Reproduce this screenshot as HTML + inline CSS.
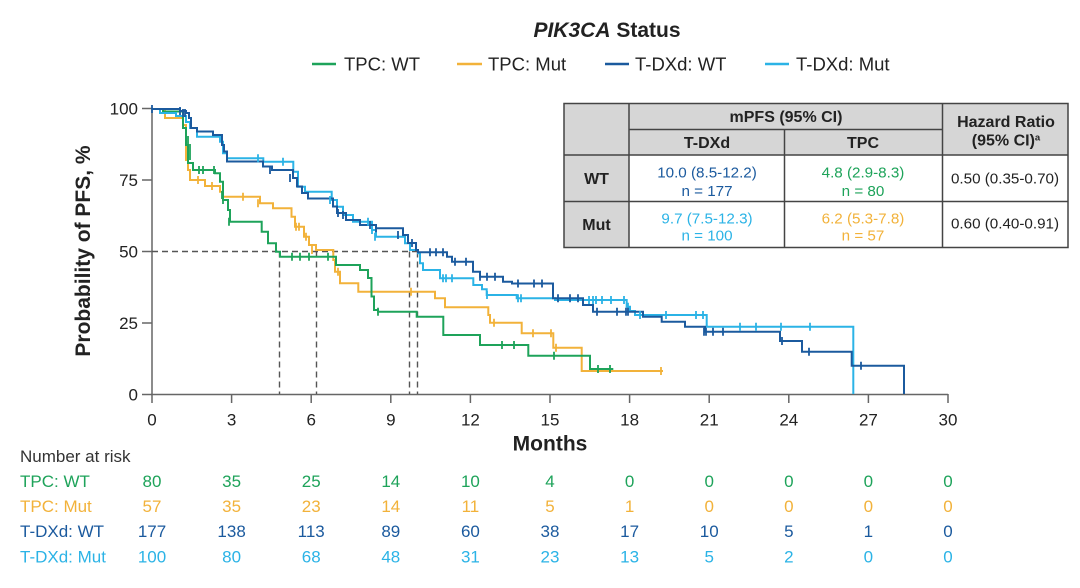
<!DOCTYPE html>
<html><head><meta charset="utf-8"><style>
html,body{margin:0;padding:0;background:#fff;}
svg{display:block;font-family:"Liberation Sans",Arial,sans-serif;}
</style></head><body>
<svg width="1080" height="588" viewBox="0 0 1080 588" xmlns="http://www.w3.org/2000/svg">
<!-- Title -->
<text x="607" y="37" text-anchor="middle" font-size="21" font-weight="bold" fill="#222"><tspan font-style="italic">PIK3CA</tspan> Status</text>
<!-- Legend -->
<g font-size="18.5" fill="#222">
<line x1="312" y1="64" x2="336" y2="64" stroke="#1ea35a" stroke-width="2.5"/>
<text x="344" y="70.5">TPC: WT</text>
<line x1="457" y1="64" x2="482" y2="64" stroke="#f2b23a" stroke-width="2.5"/>
<text x="488" y="70.5">TPC: Mut</text>
<line x1="605" y1="64" x2="629" y2="64" stroke="#1b5a9e" stroke-width="2.5"/>
<text x="635" y="70.5">T-DXd: WT</text>
<line x1="765" y1="64" x2="789" y2="64" stroke="#2bb3e6" stroke-width="2.5"/>
<text x="796" y="70.5">T-DXd: Mut</text>
</g>
<!-- Axes -->
<g stroke="#666" stroke-width="1.5" fill="none">
<line x1="152" y1="108" x2="152" y2="395"/>
<line x1="151" y1="394.5" x2="948" y2="394.5"/>
<line x1="142" y1="108.5" x2="152" y2="108.5"/>
<line x1="142" y1="180" x2="152" y2="180"/>
<line x1="142" y1="251.5" x2="152" y2="251.5"/>
<line x1="142" y1="323" x2="152" y2="323"/>
<line x1="142" y1="394.5" x2="152" y2="394.5"/>
<line x1="152" y1="394" x2="152" y2="403"/>
<line x1="231.6" y1="394" x2="231.6" y2="403"/>
<line x1="311.2" y1="394" x2="311.2" y2="403"/>
<line x1="390.8" y1="394" x2="390.8" y2="403"/>
<line x1="470.4" y1="394" x2="470.4" y2="403"/>
<line x1="550" y1="394" x2="550" y2="403"/>
<line x1="629.6" y1="394" x2="629.6" y2="403"/>
<line x1="709.2" y1="394" x2="709.2" y2="403"/>
<line x1="788.8" y1="394" x2="788.8" y2="403"/>
<line x1="868.4" y1="394" x2="868.4" y2="403"/>
<line x1="948" y1="394" x2="948" y2="403"/>
</g>
<g font-size="17" fill="#222" text-anchor="end">
<text x="138" y="114.5">100</text>
<text x="138" y="186">75</text>
<text x="138" y="257.5">50</text>
<text x="138" y="329">25</text>
<text x="138" y="400.5">0</text>
</g>
<g font-size="17" fill="#222" text-anchor="middle">
<text x="152" y="425.5">0</text>
<text x="231.6" y="425.5">3</text>
<text x="311.2" y="425.5">6</text>
<text x="390.8" y="425.5">9</text>
<text x="470.4" y="425.5">12</text>
<text x="550" y="425.5">15</text>
<text x="629.6" y="425.5">18</text>
<text x="709.2" y="425.5">21</text>
<text x="788.8" y="425.5">24</text>
<text x="868.4" y="425.5">27</text>
<text x="948" y="425.5">30</text>
</g>
<text x="550" y="450.5" text-anchor="middle" font-size="21" font-weight="bold" fill="#222">Months</text>
<text transform="translate(90,251) rotate(-90)" text-anchor="middle" font-size="21" font-weight="bold" fill="#222">Probability of PFS, %</text>
<!-- Median dashed lines -->
<g stroke="#555" stroke-width="1.4" stroke-dasharray="6,4" fill="none">
<line x1="152" y1="251.5" x2="418" y2="251.5"/>
<line x1="279.5" y1="251.5" x2="279.5" y2="394"/>
<line x1="316.5" y1="251.5" x2="316.5" y2="394"/>
<line x1="409.5" y1="251.5" x2="409.5" y2="394"/>
<line x1="417.5" y1="251.5" x2="417.5" y2="394"/>
</g>
<!-- Curves -->
<g fill="none" stroke-width="2" stroke-linejoin="miter">
<path stroke="#f2b23a" d="M152,109 H165 V118 H183 V125 H186 V160 H188 V170 H190 V180 H205 V186 H220 V191.7 H223 V196.7 H260 V203.3 H273 V208.3 H291.5 V216.7 H295 V226.7 H304 V236.7 H309 V245 H316 V250 H333.3 V260 H335 V271.7 H340 V283.3 H358.3 V291.7 H435 V298.3 H445 V307.3 H488.3 V315 H490 V322.7 H521.7 V333.3 H553.3 V347.7 H581.7 V371 H663"/>
<path stroke="#1ea35a" d="M152,109 H163 V111.5 H183 V128 H186 V145 H188 V163 H193 V170 H215 V173.3 H220 V181.7 H223 V200 H228 V210 H230 V221.7 H261.7 V231.7 H268 V243.3 H276 V251.7 H280 V256.7 H336 V265 H360 V270 H368 V278 H371.5 V296.5 H374 V310 H378 V311.7 H416.7 V316.7 H443.3 V335 H480 V345 H528.3 V355.7 H590 V369 H613.3"/>
<path stroke="#2bb3e6" d="M152,109 H160 V113 H176 V116 H186 V122 H190 V128 H197 V136.7 H220 V141.7 H223 V153.3 H227 V158.3 H263.3 V161.7 H293.3 V171.7 H298 V186.7 H305 V191.7 H331.7 V200 H337 V206.7 H343 V215 H353 V221.7 H372 V230 H376 V236.7 H405 V243.3 H410 V250 H418 V253.3 H420 V263.3 H423 V270 H440 V278.3 H473.3 V285 H482 V289.3 H486.7 V295 H516.7 V298.3 H555 V300 H626.7 V306.7 H630 V311 H635 V315 H706.7 V326.7 H853.3 V394"/>
<path stroke="#1b5a9e" d="M152,109 H180 V111 H186 V113 H189 V118 H191 V128 H197 V131.5 H213 V135 H222 V145 H224 V151.5 H227 V161.5 H263 V166.5 H272 V170 H293 V178 H297 V186.5 H302 V193 H308 V198.5 H333 V206.5 H337 V213 H346 V220 H360 V225 H376 V228.3 H403 V235 H408 V243 H416 V250 H418 V252.3 H447 V256.7 H452 V261.7 H473 V271.7 H480 V276.7 H503 V281.7 H512 V283.5 H553 V298.3 H583 V305 H593 V311.7 H643 V316.7 H661.7 V321.7 H685 V326.7 H705 V331.7 H780 V341 H802 V351.7 H851.7 V365.7 H904 V394"/>
</g>
<!-- Censor ticks -->
<g stroke="#f2b23a" stroke-width="1.8">
<path d="M198,176v8 M212,182v8 M243,192.7v8 M258,199.3v8 M296,222.7v8 M299,222.7v8 M306,232.7v8 M312,246v8 M338,267.7v8 M411,287.7v8 M494,318.7v8 M533,329.3v8 M551,329.3v8 M556,343.7v8 M661,367v8"/>
</g>
<g stroke="#1ea35a" stroke-width="1.8">
<path d="M188,136v8 M190,144v8 M190,152v8 M199,166v8 M203,166v8 M214,166v8 M222,191v8 M223,196v8 M229,217.7v8 M292,252.7v8 M300,252.7v8 M309,252.7v8 M328,252.7v8 M378,307.7v8 M502,341v8 M514,341v8 M554,351.7v8 M598,365v8 M610,365v8"/>
</g>
<g stroke="#2bb3e6" stroke-width="1.8">
<path d="M258,154.3v8 M283,157.7v8 M330,196v8 M368,217.7v8 M372,226v8 M375,232.7v8 M443,274.3v8 M446,274.3v8 M452,274.3v8 M487,291v8 M518,294.3v8 M521,294.3v8 M589,296v8 M593,296v8 M596,296v8 M602,296v8 M611,296v8 M624,296v8 M628,302.7v8 M640,311v8 M666,311v8 M696,311v8 M703,311v8 M740,322.7v8 M756,322.7v8 M781,322.7v8 M810,322.7v8"/>
</g>
<g stroke="#1b5a9e" stroke-width="1.8">
<path d="M152,105v8 M180,107v8 M183,109v8 M185,109v8 M270,166v8 M290,174v8 M338,209v8 M343,211v8 M370,221v8 M376,224.3v8 M398,231v8 M412,239v8 M430,248.3v8 M436,248.3v8 M443,248.3v8 M455,257.7v8 M466,257.7v8 M480,272.7v8 M487,272.7v8 M495,272.7v8 M518,279.5v8 M534,279.5v8 M542,279.5v8 M558,294.3v8 M570,294.3v8 M578,294.3v8 M597,307.7v8 M617,307.7v8 M626,307.7v8 M628,307.7v8 M704,327.7v8 M706,327.7v8 M713,327.7v8 M723,327.7v8 M782,337v8 M809,347.7v8 M861,361.7v8"/>
</g>
<!-- Table -->
<g>
<rect x="564" y="103.5" width="504" height="51.5" fill="#d6d6d6"/>
<rect x="564" y="155" width="65" height="92.5" fill="#d6d6d6"/>
<rect x="629" y="155" width="439" height="92.5" fill="#fff"/>
<g stroke="#444" stroke-width="1.5" fill="none">
<rect x="564" y="103.5" width="504" height="144"/>
<line x1="629" y1="103.5" x2="629" y2="247.5"/>
<line x1="784.5" y1="129.5" x2="784.5" y2="247.5"/>
<line x1="942.5" y1="103.5" x2="942.5" y2="247.5"/>
<line x1="629" y1="129.5" x2="942.5" y2="129.5"/>
<line x1="564" y1="155" x2="1068" y2="155"/>
<line x1="564" y1="201.5" x2="1068" y2="201.5"/>
</g>
<g font-size="16" font-weight="bold" fill="#222" text-anchor="middle">
<text x="786" y="122">mPFS (95% CI)</text>
<text x="707" y="148">T-DXd</text>
<text x="863" y="148">TPC</text>
<text x="1006" y="127">Hazard Ratio</text>
<text x="1006" y="145.5">(95% CI)<tspan font-size="9.5" dy="-5">a</tspan></text>
<text x="596.5" y="184">WT</text>
<text x="596.5" y="230">Mut</text>
</g>
<g font-size="15.2" text-anchor="middle">
<text x="707" y="177.5" fill="#1b5a9e">10.0 (8.5-12.2)</text>
<text x="707" y="196" fill="#1b5a9e">n = 177</text>
<text x="863" y="177.5" fill="#1ea35a">4.8 (2.9-8.3)</text>
<text x="863" y="196" fill="#1ea35a">n = 80</text>
<text x="707" y="223.5" fill="#2bb3e6">9.7 (7.5-12.3)</text>
<text x="707" y="240.5" fill="#2bb3e6">n = 100</text>
<text x="863" y="223.5" fill="#f2b23a">6.2 (5.3-7.8)</text>
<text x="863" y="240.5" fill="#f2b23a">n = 57</text>
<text x="1005" y="183.5" fill="#222">0.50 (0.35-0.70)</text>
<text x="1005" y="228.5" fill="#222">0.60 (0.40-0.91)</text>
</g>
</g>
<!-- Number at risk -->
<text x="20" y="462" font-size="17" fill="#333">Number at risk</text>
<g font-size="17">
<text x="20" y="487" fill="#1ea35a">TPC: WT</text>
<text x="20" y="512" fill="#f2b23a">TPC: Mut</text>
<text x="20" y="537" fill="#1b5a9e">T-DXd: WT</text>
<text x="20" y="562.5" fill="#2bb3e6">T-DXd: Mut</text>
</g>
<g font-size="17" text-anchor="middle" fill="#1ea35a">
<text x="152" y="487">80</text><text x="231.6" y="487">35</text><text x="311.2" y="487">25</text><text x="390.8" y="487">14</text><text x="470.4" y="487">10</text><text x="550" y="487">4</text><text x="629.6" y="487">0</text><text x="709.2" y="487">0</text><text x="788.8" y="487">0</text><text x="868.4" y="487">0</text><text x="948" y="487">0</text>
</g>
<g font-size="17" text-anchor="middle" fill="#f2b23a">
<text x="152" y="512">57</text><text x="231.6" y="512">35</text><text x="311.2" y="512">23</text><text x="390.8" y="512">14</text><text x="470.4" y="512">11</text><text x="550" y="512">5</text><text x="629.6" y="512">1</text><text x="709.2" y="512">0</text><text x="788.8" y="512">0</text><text x="868.4" y="512">0</text><text x="948" y="512">0</text>
</g>
<g font-size="17" text-anchor="middle" fill="#1b5a9e">
<text x="152" y="537">177</text><text x="231.6" y="537">138</text><text x="311.2" y="537">113</text><text x="390.8" y="537">89</text><text x="470.4" y="537">60</text><text x="550" y="537">38</text><text x="629.6" y="537">17</text><text x="709.2" y="537">10</text><text x="788.8" y="537">5</text><text x="868.4" y="537">1</text><text x="948" y="537">0</text>
</g>
<g font-size="17" text-anchor="middle" fill="#2bb3e6">
<text x="152" y="562.5">100</text><text x="231.6" y="562.5">80</text><text x="311.2" y="562.5">68</text><text x="390.8" y="562.5">48</text><text x="470.4" y="562.5">31</text><text x="550" y="562.5">23</text><text x="629.6" y="562.5">13</text><text x="709.2" y="562.5">5</text><text x="788.8" y="562.5">2</text><text x="868.4" y="562.5">0</text><text x="948" y="562.5">0</text>
</g>
</svg>
</body></html>
